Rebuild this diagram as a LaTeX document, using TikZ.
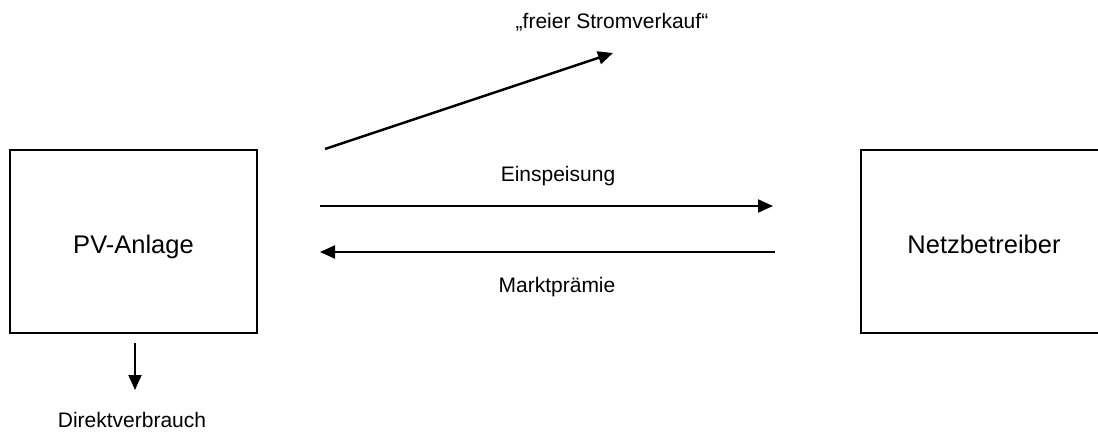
\documentclass[tikz,border=0pt]{standalone}
\usepackage{fontspec}
\setmainfont{Liberation Sans}
\usetikzlibrary{arrows.meta}
\begin{document}
\begin{tikzpicture}[x=1pt,y=-1pt,
  box/.style={draw, line width=1.6pt, inner sep=0pt},
  bigtext/.style={font=\fontsize{25.5}{30}\selectfont, inner sep=0pt},
  smalltext/.style={font=\fontsize{21}{25}\selectfont, inner sep=0pt, anchor=base},
  flow/.style={line width=2pt, -{Triangle[length=15pt,width=13pt]}}]
\useasboundingbox (0,0) rectangle (1098,432);
\begin{scope}
\clip (0,0) rectangle (1098,432);
\node[box, minimum width=247pt, minimum height=183pt] (pv) at (133.5,241.5) {};
\node[box, minimum width=244pt, minimum height=183pt] (nb) at (983,241.5) {};
\end{scope}
\node[bigtext, anchor=base] (pvt) at (133.5,253) {PV-Anlage};
\node[bigtext, anchor=base] (nbt) at (984,253) {Netzbetreiber};
\coordinate (d1) at (325,149);
\coordinate (d2) at (613,53);
\coordinate (e1) at (320,206);
\coordinate (e2) at (773,206);
\coordinate (m1) at (775,252);
\coordinate (m2) at (320,252);
\coordinate (v1) at (135,343);
\coordinate (v2) at (135,390);
\draw[flow, line width=2.5pt] (d1) -- (d2);
\draw[flow] (e1) -- (e2);
\draw[flow] (m1) -- (m2);
\draw[flow] (v1) -- (v2);
\node[smalltext] (fs) at (612,28) {„freier Stromverkauf“};
\node[smalltext] (ein) at (558,181) {Einspeisung};
\node[smalltext] (mp) at (557,292) {Marktprämie};
\node[smalltext] (dv) at (132,427) {Direktverbrauch};
\end{tikzpicture}
\end{document}
